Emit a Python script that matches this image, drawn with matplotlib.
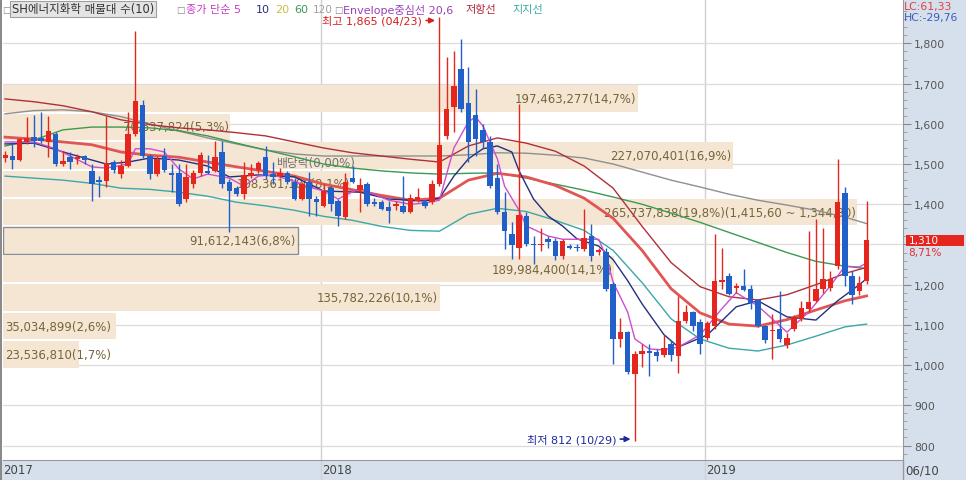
import numpy as np
import pandas as pd
import matplotlib
matplotlib.use("Agg")
import matplotlib.pyplot as plt
import matplotlib.transforms as mtransforms
from matplotlib.patches import Rectangle

plt.rcParams['font.family'] = ['DejaVu Sans', 'Noto Sans CJK KR']

# weekly candles, week of 2017-02-27 .. 2019-06-10
weeks = pd.date_range("2017-02-27", periods=120, freq="7D")

opens = [1515, 1520, 1510, 1555, 1567, 1565, 1555, 1575, 1500, 1517,
         1512, 1520, 1483, 1460, 1458, 1505, 1475, 1495, 1575, 1647,
         1520, 1475, 1520, 1478, 1478, 1413, 1450, 1478, 1483, 1483,
         1530, 1455, 1440, 1425, 1470, 1485, 1517, 1475, 1470, 1478,
         1455, 1413, 1455, 1413, 1395, 1440, 1408, 1368, 1465, 1435,
         1450, 1405, 1405, 1393, 1396, 1395, 1380, 1408, 1405, 1405,
         1450, 1570, 1642, 1736, 1652, 1622, 1585, 1555, 1465, 1380,
         1326, 1291, 1371, 1302, 1298, 1313, 1309, 1271, 1295, 1294,
         1289, 1321, 1282, 1281, 1201, 1065, 1082, 978, 1028, 1035,
         1032, 1025, 1052, 1023, 1110, 1132, 1107, 1067, 1097, 1207,
         1222, 1192, 1196, 1189, 1162, 1097, 1084, 1090, 1050, 1090,
         1115, 1140, 1159, 1189, 1192, 1246, 1428, 1222, 1184, 1209]
highs = [1532, 1555, 1565, 1617, 1622, 1630, 1620, 1580, 1532, 1530,
         1525, 1522, 1500, 1470, 1620, 1510, 1510, 1630, 1830, 1660,
         1525, 1520, 1540, 1500, 1500, 1500, 1485, 1530, 1522, 1557,
         1557, 1463, 1445, 1505, 1500, 1508, 1545, 1505, 1490, 1482,
         1465, 1455, 1480, 1420, 1450, 1445, 1413, 1478, 1495, 1465,
         1455, 1415, 1410, 1408, 1408, 1470, 1425, 1440, 1410, 1460,
         1865, 1766, 1781, 1811, 1741, 1687, 1600, 1570, 1500, 1430,
         1356, 1650, 1380, 1321, 1341, 1320, 1315, 1313, 1300, 1300,
         1388, 1351, 1290, 1290, 1206, 1117, 1085, 1035, 1052, 1052,
         1040, 1075, 1062, 1172, 1150, 1135, 1115, 1110, 1326, 1291,
         1230, 1205, 1239, 1200, 1165, 1100, 1127, 1184, 1080, 1125,
         1160, 1333, 1363, 1340, 1235, 1513, 1443, 1234, 1222, 1408]
lows = [1505, 1488, 1508, 1550, 1543, 1552, 1518, 1495, 1495, 1488,
        1500, 1500, 1408, 1418, 1443, 1478, 1465, 1492, 1570, 1515,
        1462, 1470, 1480, 1430, 1395, 1405, 1440, 1470, 1475, 1480,
        1440, 1331, 1420, 1413, 1465, 1478, 1463, 1450, 1465, 1450,
        1410, 1410, 1371, 1371, 1392, 1383, 1346, 1363, 1452, 1380,
        1395, 1395, 1385, 1353, 1385, 1378, 1378, 1405, 1390, 1400,
        1445, 1562, 1580, 1630, 1505, 1520, 1540, 1440, 1375, 1289,
        1264, 1264, 1296, 1251, 1284, 1290, 1262, 1265, 1288, 1285,
        1284, 1259, 1275, 1185, 1003, 1045, 978, 812, 995, 973,
        1010, 1020, 1010, 980, 1105, 1085, 1028, 1062, 1090, 1189,
        1175, 1180, 1184, 1140, 1095, 1055, 1015, 1057, 1042, 1085,
        1110, 1132, 1157, 1180, 1185, 1239, 1197, 1152, 1175, 1201]
closes = [1522, 1510, 1562, 1565, 1557, 1558, 1582, 1500, 1508, 1505,
          1517, 1510, 1450, 1455, 1503, 1485, 1495, 1575, 1657, 1520,
          1475, 1512, 1485, 1473, 1400, 1468, 1478, 1522, 1478, 1517,
          1450, 1433, 1425, 1473, 1478, 1503, 1470, 1468, 1477, 1455,
          1413, 1450, 1413, 1405, 1433, 1400, 1371, 1455, 1455, 1448,
          1400, 1400, 1388, 1383, 1400, 1380, 1415, 1418, 1395, 1450,
          1547, 1637, 1694, 1637, 1555, 1562, 1555, 1445, 1380, 1333,
          1299, 1373, 1301, 1298, 1302, 1306, 1271, 1309, 1291, 1290,
          1316, 1271, 1286, 1189, 1065, 1082, 983, 1028, 1035, 1031,
          1022, 1043, 1025, 1110, 1132, 1097, 1052, 1105, 1209, 1211,
          1177, 1196, 1187, 1154, 1097, 1062, 1087, 1065, 1067, 1120,
          1142, 1157, 1189, 1214, 1214, 1405, 1222, 1175, 1205, 1310]

# slow lines, read every 4 weeks
line_idx = list(range(0, 120, 4)) + [119]
env_mid = [1567, 1562, 1555, 1548, 1530, 1522, 1517, 1505, 1493, 1482,
           1470, 1450, 1436, 1422, 1410, 1415, 1460, 1477, 1468, 1447,
           1415, 1365, 1285, 1190, 1130, 1102, 1097, 1113, 1137, 1160, 1172]
env_up = [1662, 1655, 1645, 1630, 1610, 1598, 1590, 1585, 1578, 1570,
          1555, 1540, 1528, 1520, 1512, 1505, 1545, 1565, 1552, 1532,
          1495, 1440, 1345, 1255, 1195, 1170, 1162, 1175, 1200, 1228, 1243]
env_dn = [1470, 1465, 1460, 1452, 1440, 1437, 1430, 1420, 1405, 1396,
          1385, 1370, 1360, 1345, 1335, 1333, 1375, 1390, 1382, 1360,
          1335, 1285, 1205, 1115, 1065, 1042, 1035, 1050, 1072, 1095, 1102]
ma60 = [1545, 1560, 1585, 1592, 1592, 1590, 1583, 1570, 1552, 1535,
        1518, 1500, 1490, 1483, 1478, 1475, 1477, 1478, 1465, 1450,
        1435, 1418, 1400, 1378, 1355, 1330, 1305, 1280, 1258, 1246, 1240]
ma120 = [1625, 1633, 1635, 1630, 1618, 1600, 1582, 1565, 1550, 1535,
         1525, 1520, 1520, 1520, 1520, 1520, 1523, 1528, 1527, 1522,
         1515, 1500, 1480, 1460, 1443, 1425, 1410, 1398, 1385, 1368, 1352]

ma5_idx = [0, 4, 7, 9, 12, 14, 17, 18, 20, 22, 24, 26, 28, 31, 33, 35, 37, 40,
           42, 44, 46, 49, 51, 53, 56, 58, 60, 62, 64, 65, 66, 68, 69, 71, 72,
           75, 77, 82, 83, 84, 86, 87, 89, 91, 93, 96, 99, 101, 104, 108, 111,
           114, 116, 118, 119]
ma5 = [1555, 1555, 1538, 1520, 1493, 1490, 1500, 1538, 1538, 1530, 1488, 1463,
       1475, 1465, 1445, 1470, 1473, 1457, 1443, 1433, 1413, 1440, 1425, 1410,
       1400, 1403, 1410, 1540, 1605, 1617, 1595, 1513, 1445, 1385, 1346, 1321,
       1313, 1313, 1271, 1206, 1132, 1065, 1040, 1038, 1045, 1075, 1140, 1180,
       1147, 1082, 1132, 1197, 1246, 1244, 1254]
ma10_idx = [0, 4, 9, 14, 17, 20, 24, 28, 31, 35, 40, 44, 49, 53, 58, 60, 62, 64,
            66, 68, 70, 71, 73, 75, 77, 79, 82, 84, 86, 88, 91, 93, 97, 101,
            104, 108, 112, 115, 118, 119]
ma10 = [1550, 1552, 1525, 1500, 1505, 1515, 1510, 1495, 1468, 1473, 1468, 1433,
        1430, 1413, 1408, 1415, 1470, 1513, 1538, 1545, 1530, 1483, 1413, 1371,
        1346, 1314, 1296, 1262, 1210, 1152, 1076, 1045, 1075, 1145, 1160, 1120,
        1112, 1160, 1200, 1215]

# volume profile (10 price zones)
zone_low = [1628.0, 1557.2, 1486.4, 1415.6, 1344.8, 1274.0, 1203.2, 1132.4, 1061.6, 990.8]
zone_step = 70.8
zone_vol = [197463277, 70637824, 227070401, 108361180, 265737838,
            91612143, 189984400, 135782226, 35034899, 23536810]
zone_pct = [14.7, 5.3, 16.9, 8.1, 19.8, 6.8, 14.1, 10.1, 2.6, 1.7]

RED = '#e5261e'
BLUE = '#2160c8'
PANEL = '#d6e0ed'
BEIGE = '#f5e6d3'
LABEL = '#76653a'

W, H = 966, 481
fig = plt.figure(figsize=(W / 100, H / 100), dpi=100)
fig.add_artist(Rectangle((903 / W, 0), 63 / W, 1, transform=fig.transFigure,
                         facecolor=PANEL, edgecolor='none', zorder=-5))
fig.add_artist(Rectangle((0, 0), 1, 20 / H, transform=fig.transFigure,
                         facecolor=PANEL, edgecolor='none', zorder=-5))
fig.add_artist(Rectangle((0, 0), 2 / W, 1, transform=fig.transFigure,
                         facecolor='#8a8a8a', edgecolor='none', zorder=10))
fig.add_artist(Rectangle((0, 1 - 1 / H), 1, 1 / H, transform=fig.transFigure,
                         facecolor='#b0b0b0', edgecolor='none', zorder=10))

ax = fig.add_axes([3 / W, 20 / H, 900 / W, 460 / H])
x0, x1 = -0.28, 124.03
ax.set_xlim(x0, x1)
ax.set_ylim(764, 1908)

last = closes[-1]

# price grid / right axis (the label under the price tag is hidden)
ax.yaxis.tick_right()
yt = np.arange(800, 1801, 100)
ax.set_yticks(yt)
ax.set_yticks(np.arange(780, 1900, 20), minor=True)
ax.set_yticklabels(["" if abs(v - last) < 40 else f"{v:,}" for v in yt])
ax.tick_params(axis='y', which='major', length=6, color='#888888', labelcolor='#555555',
               labelsize=7.8, pad=2)
ax.tick_params(axis='y', which='minor', length=3, color='#999999')
ax.grid(axis='y', which='major', color='#dcdcdc', lw=0.9)
ax.set_axisbelow(True)
ax.set_xticks([])
for s in ['top', 'left']:
    ax.spines[s].set_visible(False)
ax.spines['right'].set_color('#999999')
ax.spines['bottom'].set_color('#999999')

# year separators and labels
xb = mtransforms.blended_transform_factory(ax.transData, ax.transAxes)
yr_start = [i for i in range(1, len(weeks)) if weeks[i].year != weeks[i - 1].year]
for i in yr_start:
    ax.plot([i - 0.3, i - 0.3], [-20 / 460, 1], transform=xb, color='#d0d0d0',
            lw=1, clip_on=False, zorder=0.5)
    ax.text(i - 0.15, -10 / 460, str(weeks[i].year), transform=xb, ha='left',
            va='center', fontsize=8.5, color='#444444')
ax.text(x0 + 0.05, -10 / 460, str(weeks[0].year), transform=xb, ha='left',
        va='center', fontsize=8.5, color='#444444')
ax.plot([1, 1], [-20 / 460, 0], transform=ax.transAxes, color='#999999', lw=1,
        clip_on=False)
ax.text(1.003, -10 / 460, weeks[-1].strftime('%m/%d'), transform=ax.transAxes,
        ha='left', va='center', fontsize=8.5, color='#444444')

# volume profile bands
W_MAX = 118.0
vmax = max(zone_vol)
for lo, vol, pct in zip(zone_low, zone_vol, zone_pct):
    width = vol / vmax * W_MAX
    cur = lo <= last < lo + zone_step
    ax.add_patch(Rectangle((x0, lo + 2.5), width, zone_step - 5, facecolor=BEIGE,
                           edgecolor='#8c8c8c' if cur else 'none', lw=1, zorder=1))
    label = f"{vol:,}({pct:.1f}%)".replace('.', ',')
    if vol == vmax:
        label += f"({lo + zone_step:,.2f} ~ {lo:,.2f})".replace('.', ',')
    mid = lo + zone_step / 2
    if width * 7.24 < 115:
        ax.text(x0 + 0.3, mid, label, ha='left', va='center', fontsize=8.5,
                color=LABEL, zorder=1.5)
    else:
        ax.text(x0 + width - 0.2, mid, label, ha='right', va='center', fontsize=8.5,
                color=LABEL, zorder=1.5)

ax.text(48.3, 1503, '배당락(0,00%)', ha='right', va='center', fontsize=8.5,
        color='#707070', zorder=1.5)

# moving averages / envelope
ax.plot(line_idx, ma120, color='#8f8f8f', lw=1, zorder=3)
ax.plot(line_idx, ma60, color='#3c9a50', lw=1, zorder=3)
ax.plot(line_idx, env_up, color='#b0303a', lw=1, zorder=3)
ax.plot(line_idx, env_dn, color='#3aa8a8', lw=1, zorder=3)
ax.plot(line_idx, env_mid, color='#e25555', lw=2, zorder=3)
ax.plot(ma10_idx, ma10, color='#24307e', lw=1, zorder=3)
ax.plot(ma5_idx, ma5, color='#d04cd0', lw=1, zorder=3)

# candles
o, h, l, c = map(np.array, (opens, highs, lows, closes))
xs = np.arange(len(c))
col = np.where(c >= o, RED, BLUE)
ax.vlines(xs, l, h, colors=col, lw=1, zorder=4)
ax.bar(xs, np.maximum(np.abs(c - o), 3), bottom=np.minimum(o, c), width=0.76,
       color=col, lw=0, zorder=5)

# high / low markers
hi = int(np.argmax(h))
lo_i = int(np.argmin(l))
ax.annotate(f"최고 {h[hi]:,} ({weeks[hi].strftime('%m/%d')})", xy=(hi - 0.6, h[hi] - 8),
            xytext=(hi - 2.4, h[hi] - 8), ha='right', va='center', fontsize=8,
            color='#d42020', zorder=6,
            arrowprops=dict(arrowstyle='-|>', color='#d42020', lw=1.2,
                            mutation_scale=8, shrinkA=1, shrinkB=0))
ax.annotate(f"최저 {l[lo_i]:,} ({weeks[lo_i].strftime('%m/%d')})", xy=(lo_i - 0.6, l[lo_i] + 4),
            xytext=(lo_i - 2.6, l[lo_i] + 4), ha='right', va='center', fontsize=8,
            color='#1c2a9c', zorder=6,
            arrowprops=dict(arrowstyle='-|>', color='#1c2a9c', lw=1.2,
                            mutation_scale=8, shrinkA=1, shrinkB=0))

# current price tag
yb = mtransforms.blended_transform_factory(ax.transAxes, ax.transData)
ax.add_patch(Rectangle((1.0035, last - 14), 0.064, 28, transform=yb, facecolor=RED,
                       edgecolor='none', clip_on=False, zorder=6))
ax.text(1.006, last + 1, f"{last:,}", transform=yb, ha='left', va='center', fontsize=7.6,
        color='white', zorder=7)
chg = (closes[-1] / closes[-2] - 1) * 100
ax.text(1.006, last - 29, f"{chg:.2f}%".replace('.', ','), transform=yb, ha='left',
        va='center', fontsize=7.6, color='#e03030')

# top legend
def ftxt(px, s, color, size=8, **kw):
    fig.text(px / W, 1 - 10 / H, s, ha='left', va='center', fontsize=size, color=color, **kw)

ftxt(2, '□', '#888888', size=6.5)
ftxt(12, 'SH에너지화학 매물대 수(10)', '#333333', size=8.3,
     bbox=dict(boxstyle='square,pad=0.15', facecolor='#e4e4e4', edgecolor='#a0a0a0', lw=0.8))
ftxt(176, '□', '#888888', size=6.5)
ftxt(186, '종가 단순 5', '#c83cc8')
ftxt(256, '10', '#24307e')
ftxt(275, '20', '#c8c040')
ftxt(294, '60', '#3c9a50')
ftxt(313, '120', '#a0a0a0', size=7.6)
ftxt(334, '□', '#888888', size=6.5)
ftxt(343, 'Envelope중심선 20,6', '#9a40b8')
ftxt(466, '저항선', '#b02838')
ftxt(512, '지지선', '#3aaaa8')
fig.text(904 / W, 1 - 7 / H, 'LC:61,33', ha='left', va='center', fontsize=7.8, color='#e04040')
fig.text(904 / W, 1 - 18 / H, 'HC:-29,76', ha='left', va='center', fontsize=7.8, color='#3c5cc0')

fig.savefig('out.png', dpi=100)
